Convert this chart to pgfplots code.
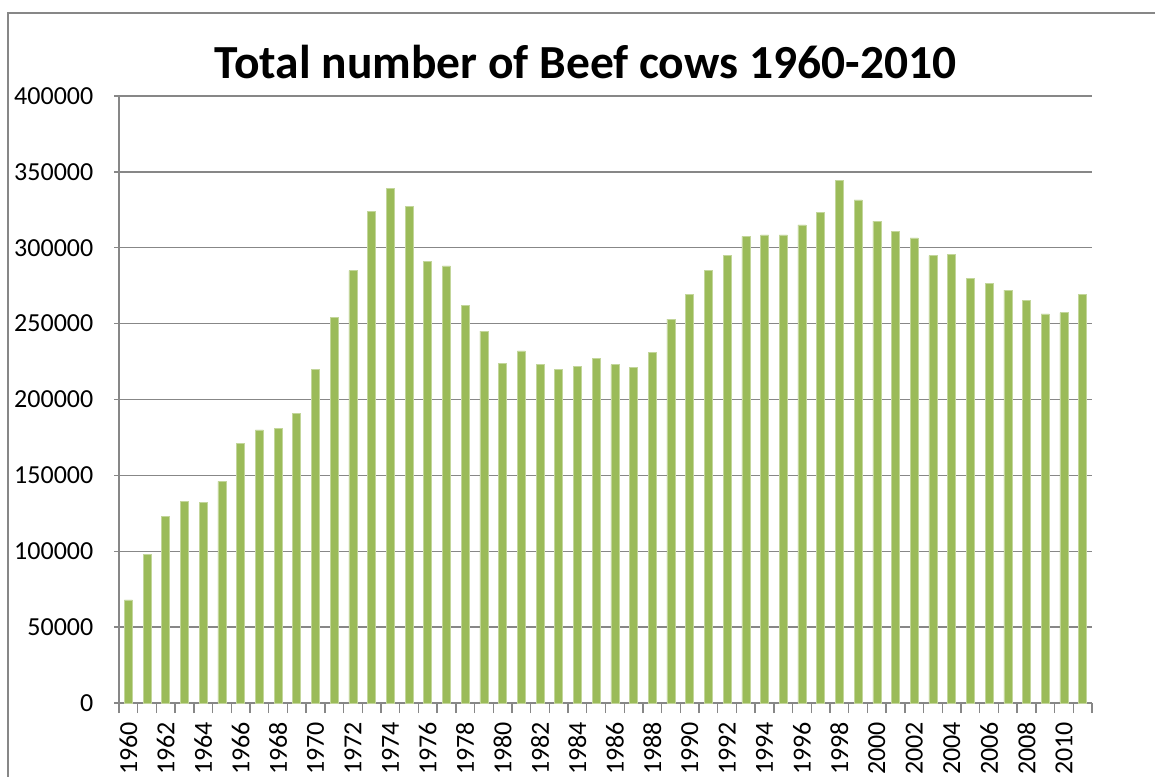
\documentclass[border=0pt]{standalone}
\usepackage{fontspec}
\setmainfont{Carlito}
\usepackage{pgfplots}
\pgfplotsset{compat=1.18}
\usepackage{pgfplotstable}

\definecolor{bargreen}{HTML}{9BBB59}
\definecolor{gridgray}{HTML}{878787}

% year index 0 = 1960 ... 51 = 2011
\pgfplotstableread{
idx cows
0 68000
1 98000
2 123000
3 133000
4 132000
5 146000
6 171000
7 180000
8 181000
9 191000
10 220000
11 254000
12 285000
13 324000
14 339000
15 327000
16 291000
17 288000
18 262000
19 245000
20 224000
21 232000
22 223000
23 220000
24 222000
25 227000
26 223000
27 221000
28 231000
29 253000
30 269000
31 285000
32 295000
33 307500
34 308500
35 308500
36 315000
37 323500
38 344500
39 331500
40 317500
41 311000
42 306500
43 294800
44 295700
45 280000
46 276300
47 272000
48 265400
49 256400
50 257300
51 269000
}\cows

\begin{document}
\begin{tikzpicture}
\useasboundingbox (-119pt,-73pt) rectangle (1036pt,703pt);
% chart frame
\draw[gridgray, line width=1.4pt] (-111pt,-120pt) -- (-111pt,690pt) -- (1120pt,690pt);
\node[anchor=base, font=\bfseries\fontsize{47.5}{56}\selectfont] at (466.5pt,624pt)
  {Total number of Beef cows 1960-2010};
\begin{axis}[
    at={(0pt,0pt)}, anchor=south west,
    scale only axis,
    width=973pt, height=607pt,
    xmin=-0.5, xmax=51.5,
    ymin=0, ymax=400000,
    ytick={0,50000,100000,150000,200000,250000,300000,350000,400000},
    yticklabels={0,50000,100000,150000,200000,250000,300000,350000,400000},
    xtick={0,2,...,50},
    xticklabels={1960,1962,1964,1966,1968,1970,1972,1974,1976,1978,1980,1982,1984,1986,1988,1990,1992,1994,1996,1998,2000,2002,2004,2006,2008,2010},
    minor xtick={-0.5,0.5,...,51.5},
    major x tick style={draw=none},
    minor tick length=10pt,
    major tick length=9pt,
    tick align=outside,
    tick style={gridgray, line width=1.4pt},
    scaled y ticks=false,
    axis lines=left,
    axis line style={-, gridgray, line width=1.4pt},
    ymajorgrids=true,
    grid style={gridgray, line width=1.4pt},
    ticklabel style={font=\fontsize{26}{31}\selectfont},
    yticklabel style={anchor=east, inner sep=0pt, xshift=-21pt},
    xticklabel style={rotate=90, anchor=east, inner sep=0pt, xshift=-10pt},
    ybar, bar width=8pt,
]
\addplot[fill=bargreen, draw=bargreen!60!white, line width=0.6pt] table[x=idx, y=cows] {\cows};
\end{axis}
\end{tikzpicture}
\end{document}
